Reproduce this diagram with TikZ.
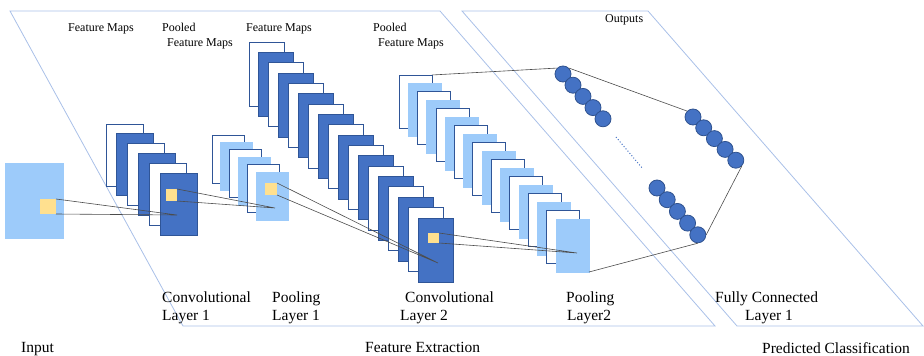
\documentclass[tikz,border=0pt]{standalone}
\usepackage{fontspec}
\setmainfont{Liberation Serif}
\definecolor{mapdark}{HTML}{4472C4}
\definecolor{maplight}{HTML}{9DCBFA}
\definecolor{mapedge}{HTML}{2F5597}
\definecolor{patch}{HTML}{FFE08F}
\definecolor{frameline}{HTML}{A9C0E8}
\definecolor{neuronedge}{HTML}{2F528F}

\begin{document}
\begin{tikzpicture}[x=1pt, y=-1pt,
		patchbox/.style={fill=patch, inner sep=0pt, outer sep=0pt},
		neuron/.style={circle, fill=mapdark, draw=neuronedge, line width=0.8pt, minimum size=16pt, inner sep=0pt},
		link/.style={draw=black!70, line width=0.6pt},
		smalllabel/.style={font=\fontsize{12}{13}\selectfont, anchor=base west, inner sep=0pt},
		biglabel/.style={font=\fontsize{15.5}{16}\selectfont, anchor=base west, inner sep=0pt}]
		\useasboundingbox (0, 0) rectangle (924, 356);
		% frames
		\draw[frameline, line width=0.8pt] (10, 11) -- (440, 11) -- (715, 326) -- (183, 326) -- cycle;
		\draw[frameline, line width=0.8pt] (462, 11) -- (648, 11) -- (923, 326) -- (737, 326) -- cycle;
		% input
		\fill[maplight] (5, 163) rectangle (64, 239);
		\node[patchbox, minimum width=16pt, minimum height=15pt] (inpatch) at (48, 206.5) {};
		% convolutional layer 1
		\foreach \i in {0,...,5} {
			\ifodd\i \def\fc{mapdark}\else\def\fc{white}\fi
			\filldraw[draw=mapedge, fill=\fc, line width=0.9pt] (106+10.8*\i, 124+9.8*\i) rectangle +(37, 62);
		}
		\node[patchbox, minimum width=11pt, minimum height=12pt] (convpatchA) at (171.5, 195) {};
		\coordinate (convhitA) at (177, 215);
		% pooling layer 1
		\foreach \i in {0,...,5} {
			\ifodd\i \def\fc{maplight}\def\ec{maplight}\else\def\fc{white}\def\ec{mapedge}\fi
			\filldraw[draw=\ec, fill=\fc, line width=0.9pt] (212+8.8*\i, 135+7.4*\i) rectangle +(32, 48);
		}
		\node[patchbox, minimum width=12pt, minimum height=12pt] (poolpatchA) at (271, 189) {};
		\coordinate (poolhitA) at (275, 208);
		% convolutional layer 2
		\foreach \i in {0,...,17} {
			\ifodd\i \def\fc{mapdark}\else\def\fc{white}\fi
			\filldraw[draw=mapedge, fill=\fc, line width=0.9pt] (249+9.94*\i, 42+10.35*\i) rectangle +(35, 64);
		}
		\node[patchbox, minimum width=11pt, minimum height=10pt] (convpatchB) at (433.5, 238) {};
		\coordinate (convhitB) at (438, 263);
		% pooling layer 2
		\foreach \i in {0,...,17} {
			\ifodd\i \def\fc{maplight}\def\ec{maplight}\else\def\fc{white}\def\ec{mapedge}\fi
			\filldraw[draw=\ec, fill=\fc, line width=0.9pt] (399+9.24*\i, 75+8.47*\i) rectangle +(33, 53);
		}
		\coordinate (poolhitB) at (577, 253);
		\coordinate (poolfirst) at (432, 75);
		\coordinate (poolfront) at (589, 272);
		% receptive field lines
		\draw[link] (inpatch.north east) -- (convhitA) -- (inpatch.south east);
		\draw[link] (convpatchA.north east) -- (poolhitA) -- (convpatchA.south east);
		\draw[link] (poolpatchA.north east) -- (convhitB) -- (poolpatchA.south east);
		\draw[link] (convpatchB.north east) -- (poolhitB) -- (convpatchB.south east);
		% fully connected
		\foreach \i in {1,...,5} {
			\node[neuron] (a\i) at (563+10*\i-10, 74+11.2*\i-11.2) {};
		}
		\foreach \i in {1,...,5} {
			\node[neuron] (b\i) at (693+10.7*\i-10.7, 117+10.8*\i-10.8) {};
		}
		\foreach \i in {1,...,5} {
			\node[neuron] (c\i) at (657+10.2*\i-10.2, 188+11.7*\i-11.7) {};
		}
		\draw[mapdark, dotted, line width=1pt] (616, 137) -- (643, 169);
		\draw[link] (poolfirst) -- (a1.north west);
		\draw[link] (a1.north east) -- (b1.north west);
		\draw[link] (b5.south east) -- (c5.east);
		\draw[link] (c5.south) -- (poolfront);
		% labels
		\node[smalllabel] (fmA) at (68, 31) {Feature Maps};
		\node[smalllabel] (pfmA) at (162, 31) {Pooled};
		\node[smalllabel] (pfmAb) at (167, 46) {Feature Maps};
		\node[smalllabel] (fmB) at (246, 31) {Feature Maps};
		\node[smalllabel] (pfmB) at (373, 31) {Pooled};
		\node[smalllabel] (pfmBb) at (378, 46) {Feature Maps};
		\node[smalllabel] (outs) at (605, 22) {Outputs};
		\node[biglabel] (convA) at (162, 302) {Convolutional};
		\node[biglabel] (convAb) at (162, 320) {Layer 1};
		\node[biglabel] (poolA) at (272, 302) {Pooling};
		\node[biglabel] (poolAb) at (272, 320) {Layer 1};
		\node[biglabel] (convB) at (405, 302) {Convolutional};
		\node[biglabel] (convBb) at (400, 320) {Layer 2};
		\node[biglabel] (poolB) at (566, 302) {Pooling};
		\node[biglabel] (poolBb) at (567, 320) {Layer2};
		\node[biglabel] (fc) at (715, 302) {Fully Connected};
		\node[biglabel] (fcb) at (745, 320) {Layer 1};
		\node[biglabel] (inp) at (21, 352) {Input};
		\node[biglabel] (fext) at (365, 352) {Feature Extraction};
		\node[biglabel] (pred) at (762, 353) {Predicted Classification};
	\end{tikzpicture}
\end{document}
